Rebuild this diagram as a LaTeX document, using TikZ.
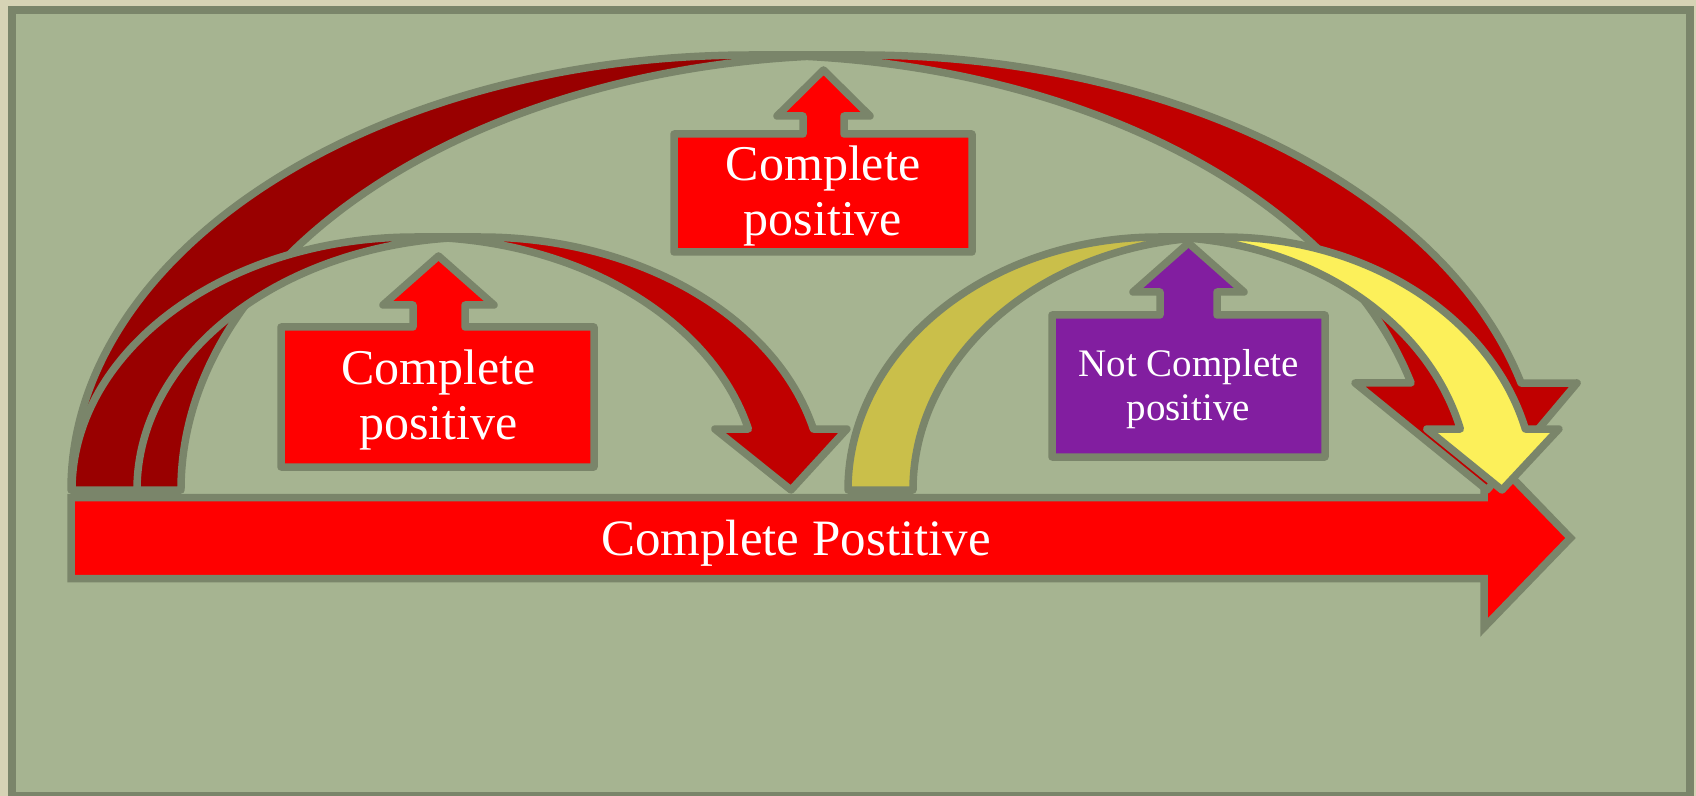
\documentclass[tikz,border=0pt]{standalone}
\usepackage{fontspec}
\setmainfont{Liberation Serif}

\definecolor{paper}{RGB}{214,211,181}
\definecolor{slide}{RGB}{166,180,145}
\definecolor{edge}{RGB}{122,133,106}
\definecolor{frontred}{RGB}{192,0,0}
\definecolor{backred}{RGB}{153,0,0}
\definecolor{frontyellow}{RGB}{252,240,90}
\definecolor{backyellow}{RGB}{202,191,74}
\definecolor{calloutpurple}{RGB}{130,30,160}

\tikzset{every picture/.style={line width=0.75pt},
  edgeline/.style={draw=edge, line width=3.75pt, line join=round},
  boxtext/.style={text=white, inner sep=0pt, align=center, font=\fontsize{25}{27.5}\selectfont},
  smalltext/.style={boxtext, font=\fontsize{19.5}{22}\selectfont},
  bartext/.style={text=white, inner sep=0pt, font=\fontsize{25.5}{27.5}\selectfont}}

% curved down arrow: #1 left, #2 base, #3 height, #4 width, #5 thickness,
% #6 head width, #7 head length, #8 front colour, #9 back colour
\newcommand{\curvedarrow}[9]{%
  \pgfmathsetmacro{\cwR}{#4/2-(#5+#6)/4}
  \pgfmathsetmacro{\caone}{asin(#7/#3)}
  \pgfmathsetmacro{\cdx}{\cwR*cos(\caone)}
  \pgfmathsetmacro{\ccB}{#1+\cwR+#5}
  \pgfmathsetmacro{\cxfive}{#1+\cwR+\cdx}
  \pgfmathsetmacro{\cxseven}{\cxfive+#5}
  \pgfmathsetmacro{\cdh}{(#6-#5)/2}
  \pgfmathsetmacro{\cytop}{#2-#3}
  \pgfmathsetmacro{\cyone}{#2-#7}
  \pgfmathsetmacro{\cxsix}{#1+#4-#6/2}
  \pgfmathsetmacro{\cang}{acos(#5/(2*\cwR))}
  \pgfmathsetmacro{\cix}{#1+\cwR+#5/2}
  \pgfmathsetmacro{\ciy}{#2-#3*sin(\cang)}
  \pgfmathsetmacro{\cheadst}{360-\caone}
  \pgfmathsetmacro{\cbackst}{180+\cang}
  \pgfmathsetmacro{\cbackend}{360-\cang}
  % front face
  \fill[#8] (\cxsix,#2) -- (\cxfive-\cdh,\cyone) -- (\cxfive,\cyone)
    arc[start angle=\cheadst, end angle=270, x radius=\cwR, y radius=#3]
    -- (\ccB,\cytop)
    arc[start angle=270, end angle=\cheadst, x radius=\cwR, y radius=#3]
    -- (\cxseven+\cdh,\cyone) -- cycle;
  % back face
  \fill[#9] (\cix,\ciy)
    arc[start angle=\cbackst, end angle=180, x radius=\cwR, y radius=#3]
    -- (#1,#2)
    arc[start angle=180, end angle=\cbackend, x radius=\cwR, y radius=#3]
    -- cycle;
  % outline
  \draw[edgeline] (\cix,\ciy)
    arc[start angle=\cbackst, end angle=180, x radius=\cwR, y radius=#3]
    -- (#1,#2)
    arc[start angle=180, end angle=270, x radius=\cwR, y radius=#3]
    -- (\ccB,\cytop)
    arc[start angle=270, end angle=\cheadst, x radius=\cwR, y radius=#3]
    -- (\cxseven+\cdh,\cyone) -- (\cxsix,#2) -- (\cxfive-\cdh,\cyone) -- (\cxfive,\cyone)
    arc[start angle=\cheadst, end angle=270, x radius=\cwR, y radius=#3];
}

\begin{document}
\begin{tikzpicture}[x=0.5pt,y=0.5pt,yscale=-1,xscale=1]
\useasboundingbox (0,0) rectangle (1696,796);

%Shape: Rectangle
\fill[paper] (0,0) rectangle (1696,796);
\draw[draw=edge, line width=4pt, fill=slide] (12,10) rectangle (1690,795.5);

%Shape: Right Arrow
\draw[edgeline, line join=miter, fill=red] (71,497.5) -- (1484,497.5) -- (1484,448.5) -- (1570.5,538) -- (1484,627.5) -- (1484,578.5) -- (71,578.5) -- cycle;

%Shape: Curved Arrow
\curvedarrow{71}{490}{435}{1527}{110}{222}{107}{frontred}{backred}
%Shape: Curved Arrow
\curvedarrow{72}{490}{253}{785}{65}{132}{61}{frontred}{backred}
%Shape: Curved Arrow
\curvedarrow{848}{490}{253}{720}{65}{132}{61}{frontyellow}{backyellow}

%Shape: Up Arrow Callout
\draw[edgeline, fill=red] (281,467) -- (281,327) -- (413,327) -- (413,305) -- (383,305) -- (438.5,256) -- (494,305) -- (465,305) -- (465,327) -- (594,327) -- (594,467) -- cycle;
%Shape: Up Arrow Callout
\draw[edgeline, fill=red] (674,252) -- (674,134) -- (803,134) -- (803,116) -- (777,116) -- (823.5,70) -- (870,116) -- (844,116) -- (844,134) -- (972,134) -- (972,252) -- cycle;
%Shape: Up Arrow Callout
\draw[edgeline, fill=calloutpurple] (1052,457) -- (1052,315) -- (1160,315) -- (1160,292) -- (1133,292) -- (1188.5,243) -- (1244,292) -- (1217,292) -- (1217,315) -- (1325,315) -- (1325,457) -- cycle;

% Text Node
\node[bartext, anchor=base] (bartxt) at (796,555) {Complete Postitive};
% Text Node
\node[boxtext] (toptxt) at (823,196) {Complete\\positive};
% Text Node
\node[boxtext] (lefttxt) at (438.5,400) {Complete\\positive};
% Text Node
\node[smalltext] (purpletxt) at (1188.5,389) {Not Complete\\positive};

\end{tikzpicture}
\end{document}
